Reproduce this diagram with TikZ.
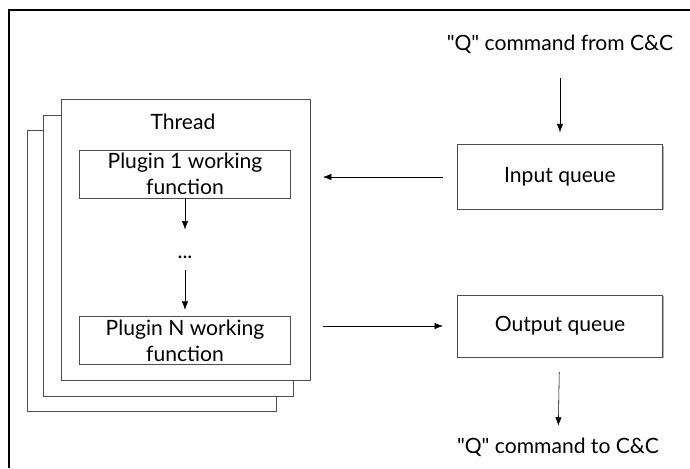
\documentclass[tikz,border=0pt]{standalone}
\usepackage{fontspec}
\setmainfont{Lato}[Ligatures=TeXOff]
\usetikzlibrary{arrows.meta,positioning,fit,shadows}
\tikzset{%
  box/.style={draw=black!70,fill=white,align=center,inner sep=0pt,
    drop shadow={shadow xshift=0.7pt,shadow yshift=-0.7pt,opacity=0.3,fill=black}},
  arrow/.style={-{Latex[length=6pt,width=4.5pt]}, thin}%
}

\begin{document}
\begin{tikzpicture}[
    x=0.025cm, y=-0.025cm,
    font=\fontsize{15}{18.5}\selectfont,
    qbox/.style={box, minimum width=146pt, minimum height=46pt},
    pbox/.style={box, minimum width=150pt, minimum height=34pt},
    sheet/.style={box, inner sep=0pt}
]
\useasboundingbox (0,0) rectangle (690,468);

% frame round the whole thing (only left and top show)
\draw[line width=0.8pt] (9,468) |- (690,10);

% stack of threads, back to front
\node[sheet, fit={(27,130) (276,411)}] (sheet2) {};
\node[sheet, fit={(43,115) (293,396)}] (sheet1) {};
\node[sheet, fit={(61,99) (310,380)}] (thread) {};

\node (title) at (183,122) {Thread};

\node[pbox] (plugin1) at (185,174)
{Plugin 1 working\\function};

\node[inner sep=0pt] (dots) at (185,257) {...};

\node[pbox] (pluginN) at (185,340.5)
{Plugin N working\\function};

% queues on the right
\node (cmdin) at (560,44) {"Q" command from C\&C};

\node[qbox] (inq) at (560,177) {Input queue};

\node[qbox, minimum height=44pt] (outq) at (560,326) {Output queue};

\node (cmdout) at (558,447) {"Q" command to C\&C};

\draw[arrow, shorten >=18.4pt] (plugin1) -- (dots);
\draw[arrow, shorten <=8pt, shorten >=4.6pt] (dots) -- (pluginN);
\draw[arrow, shorten <=14pt, shorten >=8.5pt] (cmdin) -- (inq);
\draw[arrow, shorten <=10pt, shorten >=9pt] (inq.west) -- (inq.west -| thread.east);
\draw[arrow, shorten <=9pt, shorten >=10pt] (outq.west -| thread.east) -- (outq.west);
\draw[arrow, shorten <=10.6pt, shorten >=5pt] (outq) -- (cmdout);

\end{tikzpicture}
\end{document}
